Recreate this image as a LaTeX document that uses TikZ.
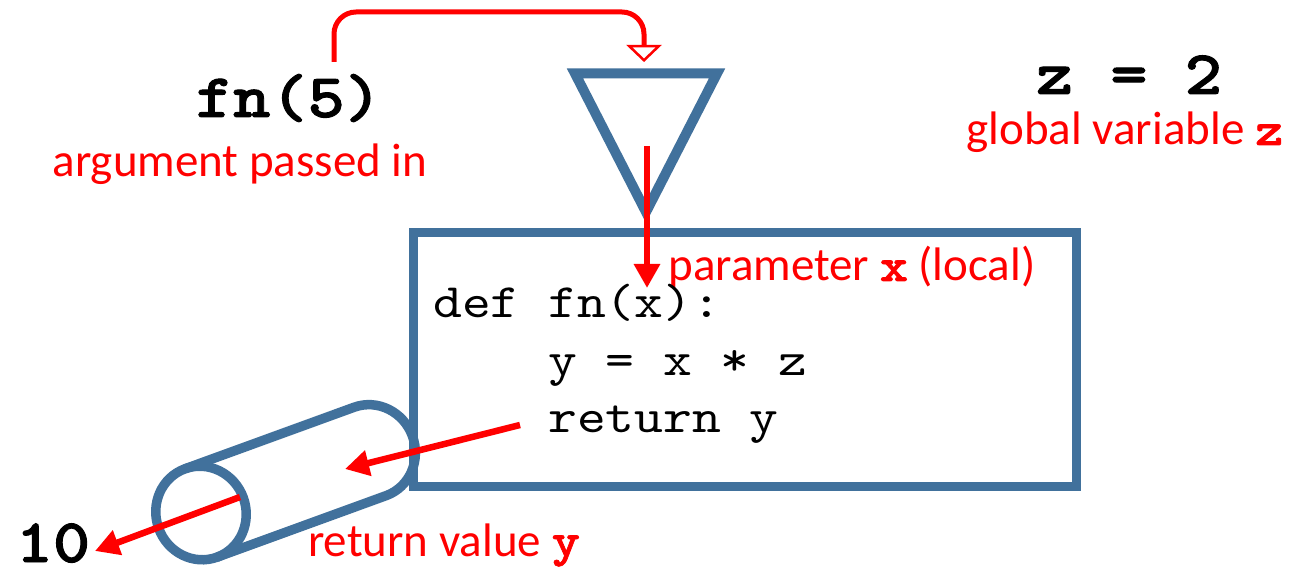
\documentclass[tikz,border=0pt]{standalone}
\usepackage{fontspec}
\setmainfont{Carlito}
\newfontfamily\codefont{lmmono10-regular.otf}[FakeStretch=1.143]
\newfontfamily\boldmono{lmmonolt10-bold.otf}[FakeStretch=1.143,FakeBold=1.5]
\usetikzlibrary{arrows.meta}
\definecolor{boxblue}{RGB}{65,113,156}
\definecolor{myred}{RGB}{255,0,0}
\begin{document}
\begin{tikzpicture}[x=1pt,y=-1pt,
  cyl/.style={draw=boxblue, line width=9.5pt},
  redarrow/.style={draw=myred, line width=6.5pt, -{Triangle[length=24pt,width=25pt]}},
  redtxt/.style={text=myred, font=\fontsize{47}{56}\selectfont, inner sep=0pt, anchor=base},
  bigmono/.style={font=\boldmono\fontsize{62}{66}\selectfont, inner sep=0pt, anchor=base},
  codetxt/.style={font=\codefont\fontsize{48}{57}\selectfont, inner sep=0pt, anchor=base west}]
\useasboundingbox (0,0) rectangle (1293,569);
\fill[white] (0,0) rectangle (1293,569);

% function box and parameter funnel
\draw[draw=boxblue, line width=10pt, line join=miter] (575,73.5) -- (717,73.5) -- (646,212) -- cycle;
\node[draw=boxblue, line width=9pt, minimum width=663pt, minimum height=253.5pt, inner sep=0pt, outer sep=0pt, anchor=north west] (box) at (413,233) {};

% return cylinder
\begin{scope}[shift={(201,513)}, rotate=20]
  \draw[cyl] (0pt,47pt) -- (180pt,47pt) arc[start angle=90,end angle=-90,x radius=45pt,y radius=47pt] -- (0pt,-47pt);
  \draw[cyl] (0pt,0pt) ellipse[x radius=45pt,y radius=47pt];
\end{scope}

% texts
\node[bigmono] (call) at (289,117) {fn(5)};
\node[redtxt] (arglbl) at (240,177) {argument passed in};
\node[bigmono] (zdef) at (1129,94) {z = 2};
\node[redtxt] (glbl) at (1125,145) {global variable {\boldmono z}};
\node[redtxt] (plbl) at (852,281) {parameter {\boldmono x} (local)};
\node[codetxt] (code1) at (433,318) {def fn(x):};
\node[codetxt] (code2) at (548,375) {y = x * z};
\node[codetxt] (code3) at (548,432) {return y};
\node[bigmono, text depth=0pt] (ten) at (53,562) {10};
\node[redtxt, anchor=base west] (rlbl) at (308,556) {return value {\boldmono y}};

% connectors
\coordinate (argstart) at (334,62);
\coordinate (argend) at (644,62);
\draw[myred, line width=5pt, rounded corners=22pt, -{Triangle[width=35pt,length=17pt,fill=white,line width=2.5pt]}]
  (argstart) -- ++(0,-50) -| (argend);
\coordinate (pin) at (647,146);
\coordinate (pout) at (647,288);
\draw[redarrow] (pin) -- (pout);
\coordinate (rin) at (520,425);
\coordinate (rout) at (345,469);
\draw[redarrow] (rin) -- (rout);
\coordinate (cin) at (240,497);
\coordinate (cout) at (95,551);
\draw[redarrow] (cin) -- (cout);
\end{tikzpicture}
\end{document}
